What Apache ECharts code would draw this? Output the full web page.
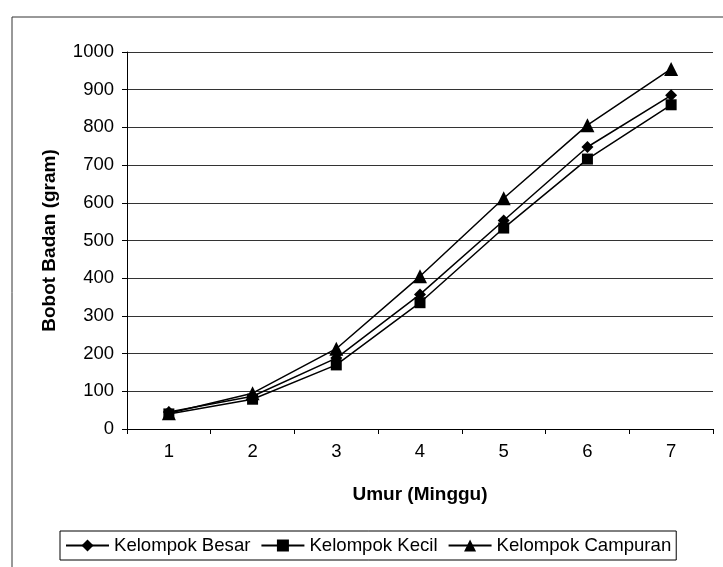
<!DOCTYPE html>
<html>
<head>
<meta charset="utf-8">
<script src="https://cdn.jsdelivr.net/npm/echarts@6/dist/echarts.min.js"></script>
<style>
  html, body { margin: 0; padding: 0; background: #fff; }
  #chart { width: 723px; height: 567px; }
</style>
</head>
<body>
<div id="chart"></div>
<script>
  // weeks
  var categories = ['1', '2', '3', '4', '5', '6', '7']
  var legendNames = ['Kelompok Besar', 'Kelompok Kecil', 'Kelompok Campuran']
  var besar = [45, 87, 188, 357, 553, 748, 885]
  var kecil = [40, 79, 170, 335, 533, 716, 860]
  var campuran = [42, 95, 213, 405, 612, 806, 955]
  var symbols = ['diamond', 'rect', 'triangle']
  var symbolSizes = [12, 11, 14]

  var chart = echarts.init(document.getElementById('chart'))
  var font = 'Liberation Sans, Arial, sans-serif'

  var seriesData = [besar, kecil, campuran]
  var series = []
  for (var i = 0; i < seriesData.length; i++) {
    series.push({
      name: legendNames[i],
      type: 'line',
      symbol: symbols[i],
      symbolSize: symbolSizes[i],
      showSymbol: true,
      lineStyle: { color: '#000', width: 1.5 },
      itemStyle: { color: '#000', borderWidth: 0 },
      data: seriesData[i]
    })
  }

  chart.setOption({
    animation: false,
    backgroundColor: '#fff',
    graphic: [{
      type: 'rect',
      shape: { x: 12, y: 17, width: 800, height: 600 },
      style: { fill: 'none', stroke: '#333', lineWidth: 1 }
    }],
    legend: {
      data: legendNames,
      left: 60,
      top: 531,
      orient: 'horizontal',
      itemWidth: 43,
      itemHeight: 15,
      itemGap: 10,
      padding: [5, 5, 5, 5],
      borderColor: '#000',
      borderWidth: 1,
      borderRadius: 0,
      textStyle: { fontFamily: font, fontSize: 18.6, color: '#000' }
    },
    grid: {
      left: 127,
      right: 10,
      top: 52,
      bottom: 138,
      containLabel: false
    },
    xAxis: {
      type: 'category',
      data: categories,
      boundaryGap: true,
      name: 'Umur (Minggu)',
      nameLocation: 'middle',
      nameGap: 56,
      nameTextStyle: { fontFamily: font, fontSize: 19, fontWeight: 'bold', color: '#000' },
      axisLine: { lineStyle: { color: '#000', width: 1 } },
      axisTick: { show: true, length: 5, lineStyle: { color: '#000' } },
      axisLabel: { fontFamily: font, fontSize: 18.5, color: '#000', margin: 13 }
    },
    yAxis: {
      type: 'value',
      min: 0,
      max: 1000,
      interval: 100,
      name: 'Bobot Badan (gram)',
      nameLocation: 'middle',
      nameGap: 68,
      nameTextStyle: { fontFamily: font, fontSize: 19, fontWeight: 'bold', color: '#000' },
      axisLine: { show: true, lineStyle: { color: '#000', width: 1 } },
      axisTick: { show: true, length: 5, lineStyle: { color: '#000' } },
      axisLabel: {
        fontFamily: font, fontSize: 18.5, color: '#000', margin: 13,
        formatter: function (v) { return String(v) }
      },
      splitLine: { show: true, lineStyle: { color: '#333', width: 1 } }
    },
    series: series
  })
</script>
</body>
</html>
